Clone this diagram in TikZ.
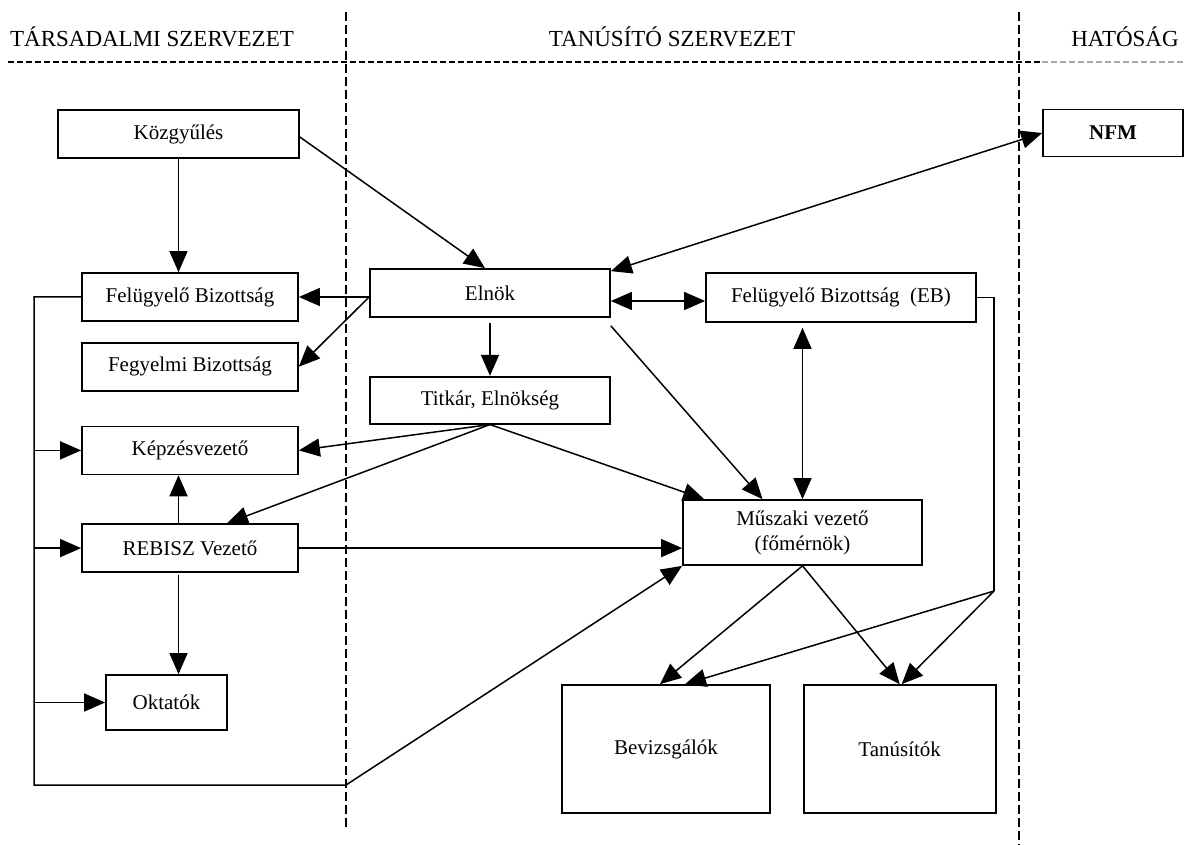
\documentclass[tikz,border=0pt]{standalone}
\usepackage{fontspec}
\setmainfont{Liberation Serif}
\usetikzlibrary{positioning, calc, arrows.meta}
\tikzset{
    orgnode/.style={
        draw, line width=1.7pt, fill=white, align=center, inner sep=2pt,
        font=\fontsize{21}{25}\selectfont
    },
    headnode/.style={
        font=\fontsize{23}{27}\selectfont
    },
    ptr/.style={
        -{Triangle[length=21pt, width=18pt]}, line width=1.5pt
    },
    dptr/.style={
        {Triangle[length=21pt, width=18pt]}-{Triangle[length=21pt, width=18pt]}, line width=1.5pt
    },
    wire/.style={
        line width=1.5pt
    },
    divline/.style={
        line width=1.1pt, dash pattern=on 9pt off 4pt
    }
}

\begin{document}
\begin{tikzpicture}[x=1pt, y=-1pt]
    \useasboundingbox (0,0) rectangle (1184,845);
    % headers and dividers
    \node[headnode] (hsoc) at (152,37) {TÁRSADALMI SZERVEZET};
    \node[headnode] (hcert) at (672,37) {TANÚSÍTÓ SZERVEZET};
    \node[headnode] (hauth) at (1125,37) {HATÓSÁG};
    \coordinate (d1top) at (346,12);   \coordinate (d1bot) at (346,830);
    \coordinate (d2top) at (1019,12);  \coordinate (d2bot) at (1019,845);
    \coordinate (hleft) at (8,62);     \coordinate (hmid) at (1042,62);
    \coordinate (hright) at (1184,62);
    \draw[divline] (d1top) -- (d1bot);
    \draw[divline] (d2top) -- (d2bot);
    \draw[line width=1.4pt, dash pattern=on 6pt off 3pt] (hleft) -- (hmid);
    \draw[line width=1.4pt, dash pattern=on 6pt off 3pt, black!35] (hmid) -- (hright);

    % left column
    \node[orgnode, minimum width=241pt, minimum height=48pt] (kozgy) at (178.5,134) {Közgyűlés};
    \node[orgnode, minimum width=216pt, minimum height=48pt] (felb) at (190,297) {Felügyelő Bizottság};
    \node[orgnode, minimum width=216pt, minimum height=48pt, below=20pt of felb] (fegy) {Fegyelmi Bizottság};
    \node[orgnode, minimum width=216pt, minimum height=48pt, below=34pt of fegy] (kepz) {Képzésvezető};
    \node[orgnode, minimum width=216pt, minimum height=48pt, below=48pt of kepz] (rebisz) {REBISZ Vezető};
    \node[orgnode, minimum width=121pt, minimum height=55pt] (oktat) at (166.5,702.5) {Oktatók};

    % middle and right
    \node[orgnode, minimum width=240pt, minimum height=48pt] (elnok) at (490,293) {Elnök};
    \node[orgnode, minimum width=240pt, minimum height=47pt, below=58pt of elnok] (titkar) {Titkár, Elnökség};
    \node[orgnode, minimum width=270pt, minimum height=49pt] (eb) at (841,297.5) {Felügyelő Bizottság~~(EB)};
    \node[orgnode, minimum width=239pt, minimum height=65pt] (musz) at (802.5,532.5) {Műszaki vezető\\(főmérnök)};
    \node[orgnode, minimum width=208pt, minimum height=128pt] (bevizs) at (666,749) {Bevizsgálók};
    \node[orgnode, minimum width=192pt, minimum height=128pt, right=32pt of bevizs] (tanus) {Tanúsítók};
    \node[orgnode, minimum width=140pt, minimum height=47pt] (nfm) at (1113,133) {\textbf{NFM}};

    % corners of the bent lines
    \coordinate (lbot) at (34,785);
    \coordinate (mbot) at (346,785);
    \coordinate (ebc) at (994,591);

    % connectors
    \draw[ptr] (kozgy.south -| kozgy) -- (kozgy |- felb.north);
    \draw[ptr] ([yshift=-3pt]kozgy.east) -- ([xshift=-5pt]elnok.north);
    \draw[dptr] (nfm.west) -- ([yshift=-3pt]elnok.north east);
    \draw[ptr] ([yshift=-4pt]elnok.west) -- (felb.east);
    \draw[ptr] ([yshift=-4pt]elnok.west) -- (fegy.east);
    \draw[ptr] ([yshift=-5pt]elnok.south) -- (titkar.north);
    \draw[dptr] ([yshift=-8pt]elnok.east) -- ([yshift=-3.5pt]eb.west);
    \draw[ptr] ([yshift=-8pt]elnok.south east) -- ([xshift=-40pt]musz.north);
    \draw[dptr] ([yshift=-5pt]musz.north |- eb.south) -- (musz.north);
    \draw[ptr] (titkar.south) -- (kepz.east);
    \draw[ptr] (titkar.south) -- ([xshift=37pt]rebisz.north);
    \draw[ptr] (titkar.south) -- ([xshift=22pt]musz.north west);
    \draw[ptr] (kozgy |- rebisz.north) -- (kozgy |- kepz.south);
    \draw[ptr] (rebisz.east) -- (rebisz.east -| musz.west);
    \draw[ptr] ([yshift=-2pt]kozgy |- rebisz.south) -- (kozgy |- oktat.north);
    \draw[ptr] (felb.west) -| (lbot) -- (mbot) -- (musz.south west);
    \draw[ptr] (lbot |- kepz.west) -- (kepz.west);
    \draw[ptr] (lbot |- rebisz.west) -- (rebisz.west);
    \draw[ptr] (lbot |- oktat.west) -- (oktat.west);
    \draw[wire] (eb.east) -| (ebc);
    \draw[ptr] (ebc) -- ([xshift=19pt]bevizs.north);
    \draw[ptr] (ebc) -- ([xshift=2pt]tanus.north);
    \draw[ptr] (musz.south) -- ([xshift=-6pt]bevizs.north);
    \draw[ptr] (musz.south) -- (tanus.north);
\end{tikzpicture}
\end{document}
